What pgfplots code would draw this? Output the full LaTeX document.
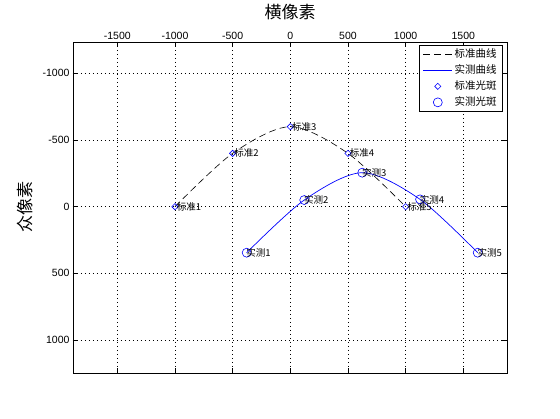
\documentclass[border=0pt]{standalone}
\usepackage{fontspec}
\setmainfont{Liberation Sans}
\newfontfamily\cjk{Noto Sans CJK SC}
\usepackage{pgfplots}
\pgfplotsset{compat=1.18}
\begin{document}
\begin{tikzpicture}[x=1pt,y=1pt]
\path[use as bounding box] (0,0) rectangle (560,419);
\begin{axis}[
  at={(73pt,46pt)}, anchor=south west,
  width=434pt, height=331pt, scale only axis,
  xmin=-1884, xmax=1879, ymin=-1235, ymax=1247, y dir=reverse,
  axis line style={black, line width=0.8pt},
  xtick={-1500,-1000,-500,0,500,1000,1500},
  xticklabels={-1500,-1000,-500,0,500,1000,1500},
  ytick={-1000,-500,0,500,1000},
  yticklabels={-1000,-500,0,500,1000},
  xtick pos=both, ytick pos=both,
  xticklabel pos=right,
  tick align=inside, major tick length=5pt,
  tick style={black, line width=0.6pt},
  ticklabel style={font=\fontsize{10.5}{12}\selectfont},
  xticklabel style={yshift=-1pt},
  grid=major,
  major grid style={black, line width=0.7pt, dash pattern=on 0.7pt off 3.3pt},
  title={\cjk\fontsize{17}{20}\selectfont 横像素},
  title style={at={(0.5,1)}, anchor=base, yshift=17pt},
  ylabel={\cjk\fontsize{17}{20}\selectfont 众像素},
  every axis y label/.style={at={(rel axis cs:0,0.5)}, rotate=90, anchor=south, yshift=37pt},
  legend image code/.code={\draw[mark repeat=2,mark phase=2] plot coordinates {(0pt,0pt) (14.5pt,0pt) (29pt,0pt)};},
  legend cell align=left,
  legend style={at={(1,1)}, anchor=north east, xshift=-4pt, yshift=-3pt,
    draw=black, line width=0.7pt, inner xsep=4pt, inner ysep=2pt,
    font=\cjk\fontsize{10.5}{12}\selectfont,
    nodes={inner sep=2pt, text height=8pt, text depth=2pt},
    row sep=2pt},
]
\addplot[black, line width=0.6pt, dash pattern=on 7pt off 4pt, smooth] coordinates {
  (-1000,0) (-500,-400) (0,-600) (500,-400) (1000,0)};
\addlegendentry{标准曲线}
\addplot[blue, line width=0.7pt, smooth] coordinates {
  (-378,345) (121,-50) (624,-255) (1125,-55) (1625,345)};
\addlegendentry{实测曲线}
\addplot[blue, only marks, mark=square, mark size=2.2pt, mark options={line width=0.6pt, fill=none, rotate=45},
  nodes near coords, point meta=explicit symbolic,
  nodes near coords style={anchor=west, black, inner sep=0.5pt, xshift=1pt,
    font=\cjk\fontsize{9.5}{11}\selectfont}]
  table[meta=label] {
x y label
-1000 0 标准1
-500 -400 标准2
0 -600 标准3
500 -400 标准4
1000 0 标准5
};
\addlegendentry{标准光斑}
\addplot[blue, only marks, mark=o, mark size=4.5pt, mark options={line width=0.6pt},
  nodes near coords, point meta=explicit symbolic,
  nodes near coords style={anchor=west, black, inner sep=0.5pt, xshift=-1pt,
    font=\cjk\fontsize{9.5}{11}\selectfont}]
  table[meta=label] {
x y label
-378 345 实测1
121 -50 实测2
624 -255 实测3
1125 -55 实测4
1625 345 实测5
};
\addlegendentry{实测光斑}
\end{axis}
\end{tikzpicture}
\end{document}
